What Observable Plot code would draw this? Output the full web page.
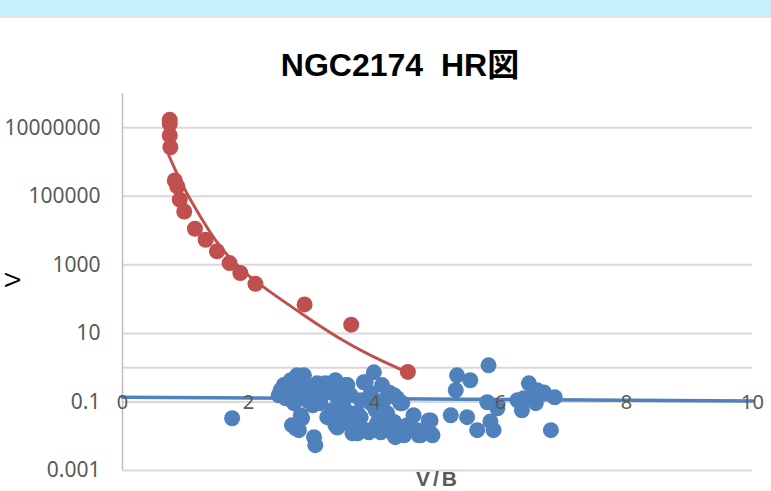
<!DOCTYPE html>
<html><head><meta charset="utf-8">
<script src="https://cdn.jsdelivr.net/npm/d3@7"></script>
<script src="https://cdn.jsdelivr.net/npm/@observablehq/plot@0.6"></script>
<style>
body{margin:0;background:#fff;}
#wrap{position:relative;width:771px;height:491px;overflow:hidden;background:#fff;}
#chart{position:absolute;left:0;top:0;}
#band{position:absolute;left:0;top:0;width:771px;height:16px;background:#c5f1fd;border-bottom:2px solid #e2e2e2;}
#title{position:absolute;left:0;top:49px;width:800px;text-align:center;white-space:pre;font-family:"Liberation Sans","Noto Sans CJK JP",sans-serif;font-weight:bold;font-size:32px;line-height:32px;color:#000;}
</style></head><body>
<div id="wrap"><div id="chart"></div><div id="band"></div><div id="title">NGC2174  HR図</div></div>
<script>
// Red series (upper branch)
const redX = [0.75,0.75,0.75,0.76,0.83,0.87,0.91,0.98,1.15,1.32,1.50,1.70,1.87,2.11,2.89,3.63,4.53];
const redY = [1.7e7,1.3e7,6.0e6,2.7e6,2.9e5,1.95e5,8.0e4,3.6e4,1.13e4,5.4e3,2.5e3,1.13e3,580,280,70,18,0.75];
// Red trendline
const redTrendX = [0.735,0.97,1.24,1.50,1.77,2.03,2.35,2.88,3.41,3.94,4.53];
const redTrendY = [1.56e6,1.85e5,2.5e4,4.6e3,1.2e3,440,160,34,7.9,2.3,0.72];
// Blue series
const blueX = [2.77,2.88,2.56,2.51,2.67,2.83,3.09,3.04,2.93,2.72,2.83,2.69,2.80,3.04,3.06,2.61,2.48,2.67,2.85,2.75,2.98,2.59,2.76,2.90,3.14,3.02,
3.38,3.57,3.25,3.41,3.14,3.33,3.51,3.25,3.41,3.65,3.57,3.83,3.99,4.12,3.78,3.73,3.88,4.04,4.15,4.31,4.41,4.20,4.31,4.47,4.62,4.68,4.89,4.89,4.73,4.10,3.78,3.62,3.46,3.94,3.73,4.52,4.31,3.86,3.54,3.33,4.23,4.36,4.44,4.86,4.92,4.70,4.33,3.91,3.38,3.75,4.17,4.49,3.22,3.62,3.94,3.46,4.02,
5.21,5.31,5.52,5.29,5.47,5.63,5.81,5.79,5.84,5.89,5.95,6.45,6.58,6.37,6.48,6.56,6.34,6.69,6.86,6.80,6.27,
1.74];
const blueY = [0.60,0.60,0.31,0.22,0.18,0.35,0.35,0.19,0.112,0.092,0.041,0.021,0.015,0.0094,0.0055,0.22,0.157,0.43,0.0335,0.017,0.25,0.128,0.157,0.19,0.157,0.080,
0.43,0.31,0.22,0.137,0.092,0.057,0.070,0.036,0.018,0.0122,0.024,0.375,0.73,0.31,0.112,0.047,0.015,0.024,0.112,0.157,0.092,0.047,0.0107,0.0107,0.041,0.015,0.029,0.0122,0.0107,0.013,0.036,0.047,0.22,0.092,0.0122,0.021,0.026,0.375,0.31,0.19,0.19,0.128,0.092,0.029,0.0107,0.0107,0.0094,0.013,0.021,0.0335,0.024,0.017,0.35,0.157,0.18,0.041,0.057,
0.041,0.60,0.43,0.22,0.036,0.015,1.17,0.098,0.027,0.015,0.065,0.35,0.22,0.128,0.128,0.092,0.057,0.19,0.137,0.015,0.112,
0.0335];
// Blue trendline
const blueTrendX = [0, 10];
const blueTrendY = [0.138, 0.106];
// Axes
const yTicks = [1e7, 1e5, 1e3, 10, 0.1, 0.001];
const yGrid = [1e7, 1e5, 1e3, 10, 1, 0.1, 0.001];
const xTicks = [0, 2, 4, 6, 8, 10];

const red = redX.map((x, i) => ({x, y: redY[i]}));
const redTrend = redTrendX.map((x, i) => ({x, y: redTrendY[i]}));
const blue = blueX.map((x, i) => ({x, y: blueY[i]}));
const blueTrend = blueTrendX.map((x, i) => ({x, y: blueTrendY[i]}));

const chart = Plot.plot({
  width: 771, height: 491,
  marginTop: 93, marginBottom: 21, marginLeft: 122, marginRight: 19,
  x: {domain: [0, 10]},
  y: {type: "log", domain: [0.001, 1e8]},
  style: {fontFamily: "'Noto Sans', sans-serif", background: "transparent", overflow: "visible"},
  marks: [
    Plot.ruleY(yGrid, {stroke: "#d9d9d9", strokeWidth: 2}),
    Plot.ruleX([0], {stroke: "#bfbfbf", strokeWidth: 1.5}),
    Plot.dot(blue, {x: "x", y: "y", r: 8, fill: "#4f81bd"}),
    Plot.line(blueTrend, {x: "x", y: "y", stroke: "#4f81bd", strokeWidth: 3.5}),
    Plot.dot(red, {x: "x", y: "y", r: 8, fill: "#c0504d"}),
    Plot.line(redTrend, {x: "x", y: "y", stroke: "#c0504d", strokeWidth: 3, curve: "natural"}),
    Plot.axisY({ticks: yTicks, tickFormat: d => String(d), tickSize: 0, tickPadding: 22, fontSize: 21, color: "#595959", label: null}),
    Plot.axisX({ticks: xTicks, tickFormat: d => String(d), tickSize: 0, tickPadding: 3, dy: -79, fontSize: 20, color: "#595959", label: null})
  ]
});
document.getElementById("chart").appendChild(chart);
const svg = d3.select(chart);
svg.append("text")
  .attr("x", 438).attr("y", 485.5)
  .attr("text-anchor", "middle")
  .attr("font-size", 21)
  .attr("font-weight", "bold")
  .attr("letter-spacing", 3)
  .attr("font-family", "'Liberation Sans', sans-serif")
  .attr("fill", "#595959")
  .text("V/B");
svg.append("text")
  .attr("transform", "translate(20,280) rotate(-90)")
  .attr("text-anchor", "middle")
  .attr("font-size", 22)
  .attr("font-family", "'Liberation Sans', sans-serif")
  .attr("fill", "#000")
  .text("V");
</script>
</body></html>
